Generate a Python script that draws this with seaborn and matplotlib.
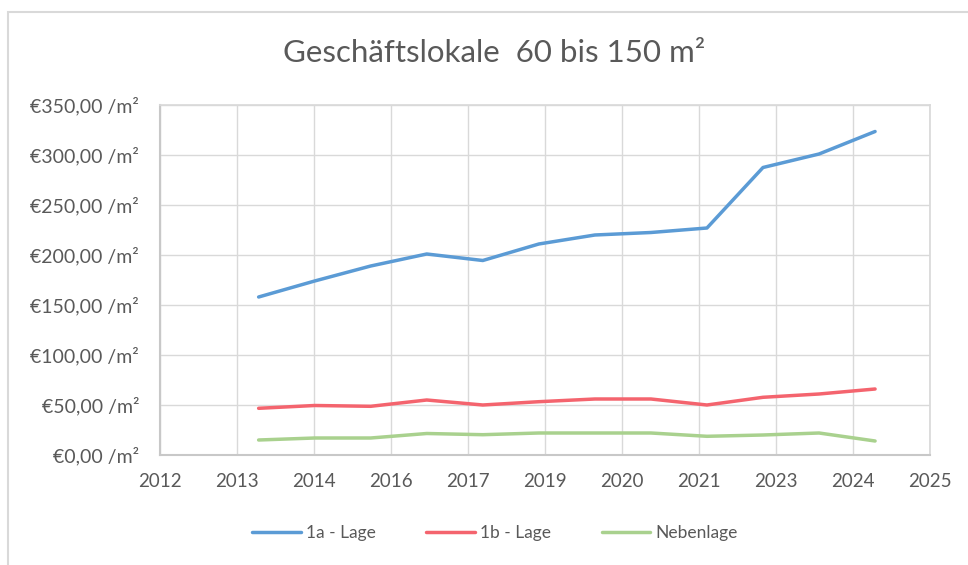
import numpy as np
import pandas as pd
import seaborn as sns
import matplotlib
matplotlib.use("Agg")
import matplotlib.pyplot as plt
from matplotlib.patches import Rectangle

# ---- data ----
years = [2014, 2015, 2016, 2017, 2018, 2019, 2020, 2021, 2022, 2023, 2024, 2025]
lage_1a = [158, 174, 189, 201, 194.5, 211, 220, 222.5, 227, 287.5, 301, 323.5]
lage_1b = [46.7, 49.5, 48.7, 55, 50, 53.3, 56, 56, 50, 57.7, 61, 66]
nebenlage = [15, 17, 17, 21.5, 20.3, 22, 22, 22, 18.7, 20, 22, 14]
series_names = ["1a - Lage", "1b - Lage", "Nebenlage"]
tick_labels = ["2012", "2013", "2014", "2016", "2017", "2019", "2020", "2021", "2023", "2024", "2025"]
y_ticks = [0, 50, 100, 150, 200, 250, 300, 350]
title = "Geschäftslokale  60 bis 150 m²"

colors = ["#5B9BD5", "#F4646E", "#A9D18E"]

df = pd.DataFrame({
    "Jahr": years * 3,
    "Wert": lage_1a + lage_1b + nebenlage,
    "Serie": [series_names[0]] * len(years) + [series_names[1]] * len(years) + [series_names[2]] * len(years),
})

sns.set_theme(style="white")
plt.rcParams["font.family"] = ["Lato", "DejaVu Sans"]

fig = plt.figure(figsize=(9.68, 5.65), dpi=100)
ax = fig.add_axes([160 / 968, 110 / 565, 770 / 968, 350 / 565])

# outer chart border (cut at right/bottom like the reference)
fig.patches.append(Rectangle((8 / 968, -0.1), 1.2, (565 - 12) / 565 + 0.1,
                             transform=fig.transFigure, fill=False,
                             edgecolor="#D9D9D9", linewidth=1.5, zorder=0))

sns.lineplot(data=df, x="Jahr", y="Wert", hue="Serie", palette=colors,
             linewidth=2.5, ax=ax, legend=True)

# date-like axis: 11 ticks with ~1.374 year spacing
t0, step = 2012.24, 1.374
tick_pos = [t0 + k * step for k in range(len(tick_labels))]
ax.set_xlim(tick_pos[0], tick_pos[-1])
ax.set_xticks(tick_pos)
ax.set_xticklabels(tick_labels)
ax.set_ylim(0, 350)
ax.set_yticks(y_ticks)
ax.set_yticklabels([("€%.2f" % v).replace(".", ",") + " /m²" for v in y_ticks])

ax.grid(True, color="#D9D9D9", linewidth=1)
ax.set_axisbelow(True)
for side in ["top", "right"]:
    ax.spines[side].set_color("#D9D9D9")
for side in ["left", "bottom"]:
    ax.spines[side].set_color("#C8C8C8")
    ax.spines[side].set_linewidth(1.5)
ax.tick_params(axis="both", length=0, colors="#595959")
ax.tick_params(axis="y", pad=15, labelsize=14)
ax.tick_params(axis="x", pad=13, labelsize=13.5)
ax.set_xlabel("")
ax.set_ylabel("")

fig.text(494 / 968, 1 - 53 / 565, title, ha="center", va="center",
         fontsize=22.5, color="#595959")

handles, labels = ax.get_legend_handles_labels()
ax.legend(handles, labels, loc="center", bbox_to_anchor=((495 - 160) / 770, (32 - 110) / 350),
          ncol=3, frameon=False, fontsize=12.5, labelcolor="#595959",
          handlelength=2.8, columnspacing=2.9, handletextpad=0.3)

fig.savefig("out.png", dpi=100)
